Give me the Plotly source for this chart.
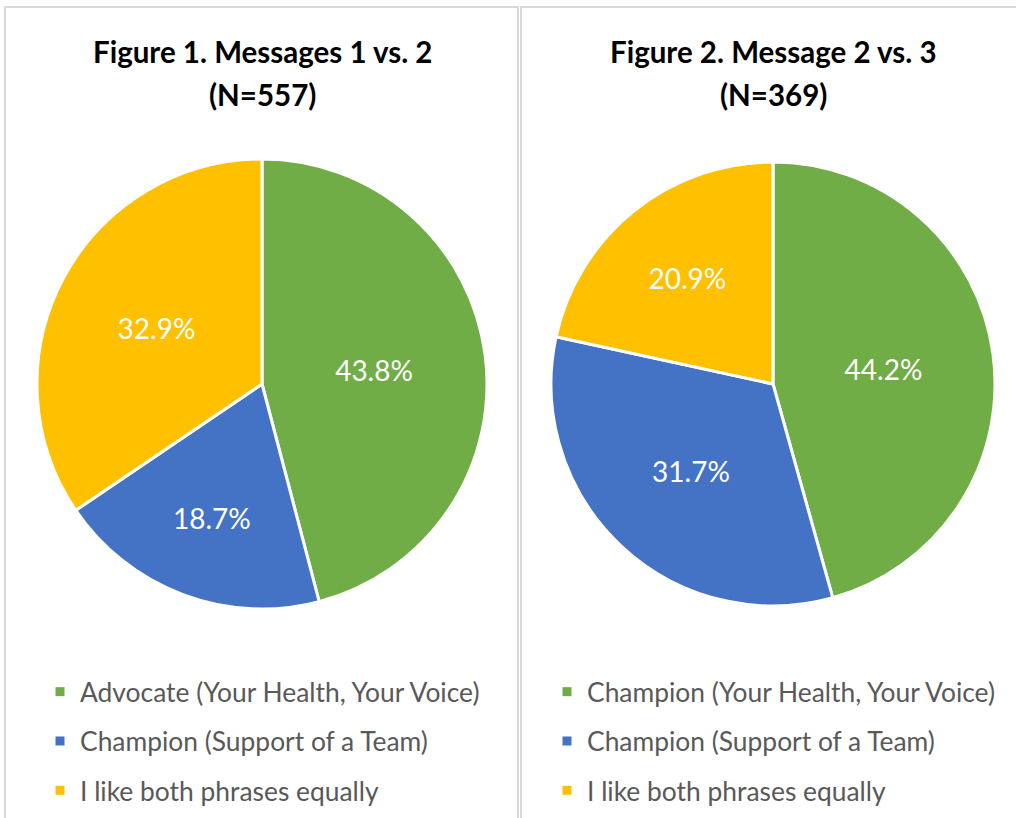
import plotly.graph_objects as go

W, H = 1016, 818

# ---- data ----
labels_1 = ["Advocate (Your Health, Your Voice)", "Champion (Support of a Team)", "I like both phrases equally"]
values_1 = [43.8, 18.7, 32.9]
labels_2 = ["Champion (Your Health, Your Voice)", "Champion (Support of a Team)", "I like both phrases equally"]
values_2 = [44.2, 31.7, 20.9]
colors = ["#70AD47", "#4472C4", "#FFC000"]
title_1 = ["Figure 1. Messages 1 vs. 2", "(N=557)"]
title_2 = ["Figure 2. Message 2 vs. 3", "(N=369)"]

FONT = "Lato"


def px(x):
    return x / W


def py(y):
    return 1 - y / H


fig = go.Figure()

pie_specs = [
    (labels_1, values_1, (37, 487), (159, 609)),
    (labels_2, values_2, (551, 995), (162, 606)),
]
for labels, values, (x0, x1), (y0, y1) in pie_specs:
    fig.add_trace(go.Pie(
        labels=labels, values=values,
        text=[f"{v:.1f}%" for v in values],
        textinfo="text", textposition="inside",
        insidetextorientation="horizontal",
        textfont=dict(family=FONT, size=28, color="white"),
        marker=dict(colors=colors, line=dict(color="white", width=3)),
        sort=False, direction="clockwise", rotation=0,
        domain=dict(x=[px(x0), px(x1)], y=[py(y1), py(y0)]),
        showlegend=False, hoverinfo="label+text",
    ))

# legend entries (one legend per panel)
for lg, labels in (("legend", labels_1), ("legend2", labels_2)):
    for lab, col in zip(labels, colors):
        fig.add_trace(go.Scatter(
            x=[None], y=[None], mode="markers", name=lab,
            marker=dict(symbol="square", size=9, color=col),
            legend=lg, legendgroup=lg + lab, showlegend=True,
        ))

legend_common = dict(
    font=dict(family=FONT, size=26.4, color="#595959"),
    bgcolor="rgba(0,0,0,0)", tracegroupgap=12,
    xanchor="left", yanchor="top", orientation="v",
)
fig.update_layout(
    legend=dict(x=px(40), y=py(668), **legend_common),
    legend2=dict(x=px(547), y=py(668), **legend_common),
)

for lines, cx in ((title_1, 262), (title_2, 773)):
    for line, cy in zip(lines, (52, 95)):
        fig.add_annotation(
            text=f"<b>{line}</b>", x=px(cx), y=py(cy), xref="paper", yref="paper",
            showarrow=False, xanchor="center", yanchor="middle",
            font=dict(family=FONT, size=29.5, color="black"),
        )

# panel borders
for x0, x1 in ((5, 518), (521, 1030)):
    fig.add_shape(type="rect", xref="paper", yref="paper",
                  x0=px(x0), x1=px(x1), y0=py(830), y1=py(7),
                  line=dict(color="#D9D9D9", width=2), fillcolor="rgba(0,0,0,0)")

fig.update_layout(
    width=W, height=H, margin=dict(l=0, r=0, t=0, b=0),
    paper_bgcolor="white", plot_bgcolor="white",
    xaxis=dict(visible=False), yaxis=dict(visible=False),
)

fig.write_html("out.html", config={"displayModeBar": False},
               post_script="document.body.style.margin='0';")
